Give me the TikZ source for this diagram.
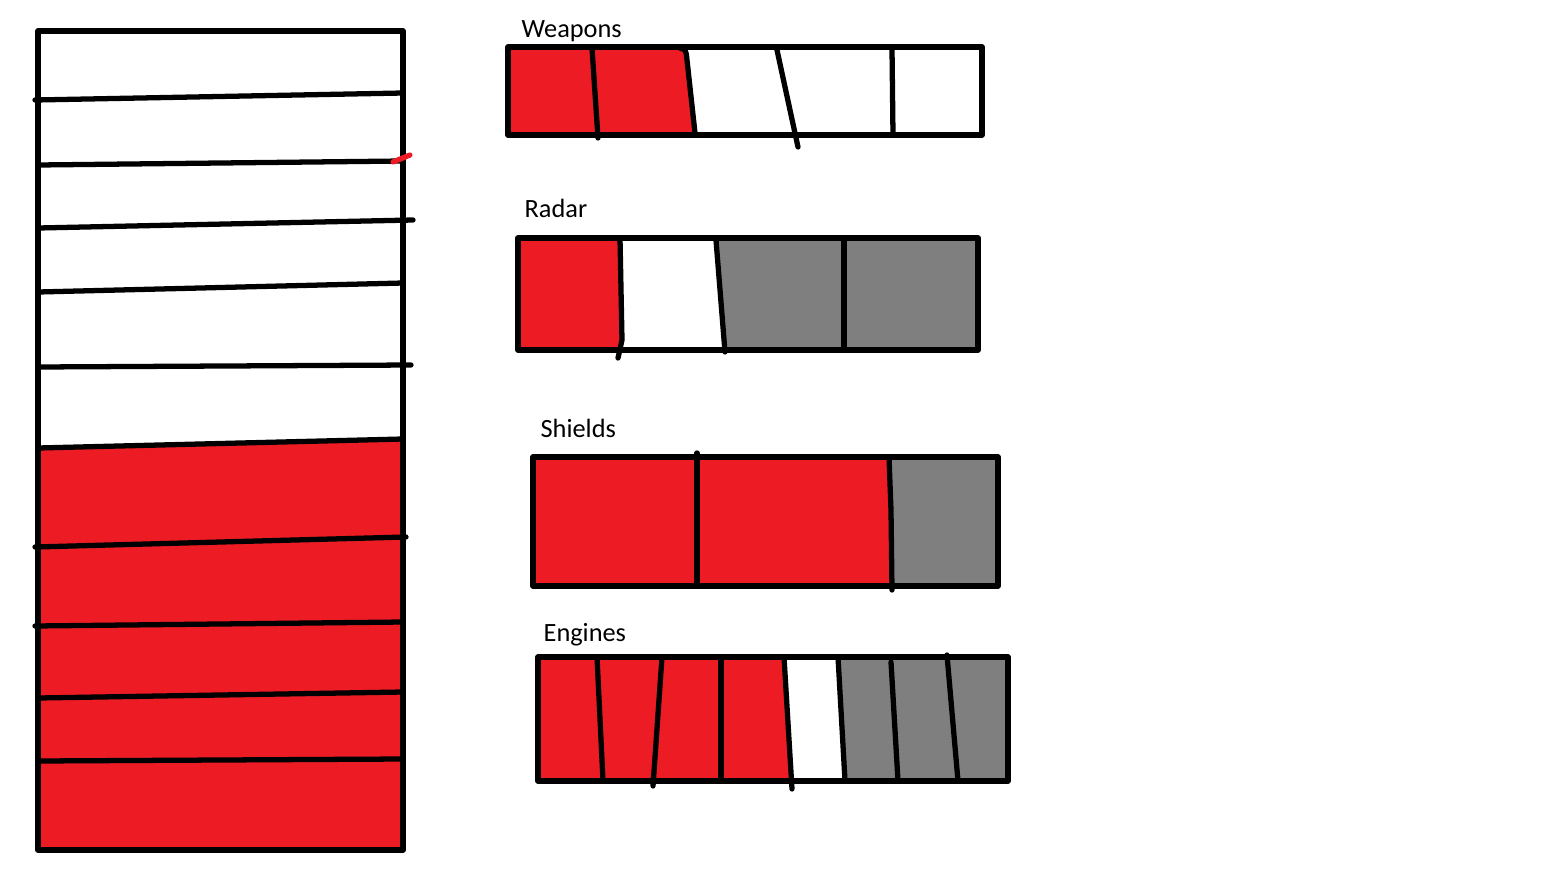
\documentclass[tikz,border=0pt]{standalone}
\usepackage{fontspec}
\setmainfont{Carlito}
\definecolor{paintred}{HTML}{ED1C24}
\definecolor{paintgray}{HTML}{7F7F7F}
\begin{document}
\begin{tikzpicture}[line join=round,line cap=round,font=\fontsize{15}{18}\selectfont,x=0.02cm,y=-0.02cm,line width=3pt]
		\useasboundingbox (0,0) rectangle (1563,869);
		% tall bar on the left
		\fill[paintred] (38,448)--(403,439)--(403,850)--(38,850)--cycle;
		\draw (38,31) rectangle (403,850);
		\foreach \a/\b/\c/\d in {35/100/403/93, 38/165/403/161, 38/228/413/220, 38/292/403/283, 38/367/411/365, 38/448/403/439, 35/547/406/537, 35/626/403/622, 38/698/403/692, 38/761/403/759}
		\draw (\a,\b)--(\c,\d);
		\draw[paintred] (393,162)--(410,155);
		% weapons
		\node[anchor=base west,inner sep=0pt] (weapons) at (519,37) {Weapons};
		\fill[paintred] (508,47)--(680,47)..controls (686,50)..(687,60)--(695,135)--(508,135)--cycle;
		\draw (508,47) rectangle (982,135);
		\draw (592,48)--(598,138);
		\draw (680,48)..controls (686,50)..(687,60)--(695,133);
		\draw (777,50)--(798,147);
		\draw (892,48)--(893,135);
		% radar
		\node[anchor=base west,inner sep=0pt] (radar) at (522,217) {Radar};
		\fill[paintred] (518,238)--(620,238)--(622,340)--(620,350)--(518,350)--cycle;
		\fill[paintgray] (716,238)--(978,238)--(978,350)--(725,350)--cycle;
		\draw (518,238) rectangle (978,350);
		\draw (620,238)--(622,340)--(618,358);
		\draw (716,240)--(725,352);
		\draw (844,238)--(844,350);
		% shields
		\node[anchor=base west,inner sep=0pt] (shields) at (538,437) {Shields};
		\fill[paintred] (533,457)--(889,457)--(891,586)--(533,586)--cycle;
		\fill[paintgray] (889,457)--(998,457)--(998,586)--(891,586)--cycle;
		\draw (533,457) rectangle (998,586);
		\draw (697,453)--(697,586);
		\draw (889,457)--(891,510)--(892,590);
		% engines
		\node[anchor=base west,inner sep=0pt] (engines) at (541,641) {Engines};
		\fill[paintred] (538,657)--(784,657)--(791,781)--(538,781)--cycle;
		\fill[paintgray] (838,657)--(1008,657)--(1008,781)--(845,781)--cycle;
		\draw (538,657) rectangle (1008,781);
		\draw (597,657)--(603,781);
		\draw (662,657)--(653,786);
		\draw (721,657)--(721,781);
		\draw (784,657)--(792,789);
		\draw (838,657)--(845,781);
		\draw (891,662)--(898,781);
		\draw (947,655)--(958,781);
\end{tikzpicture}
\end{document}
